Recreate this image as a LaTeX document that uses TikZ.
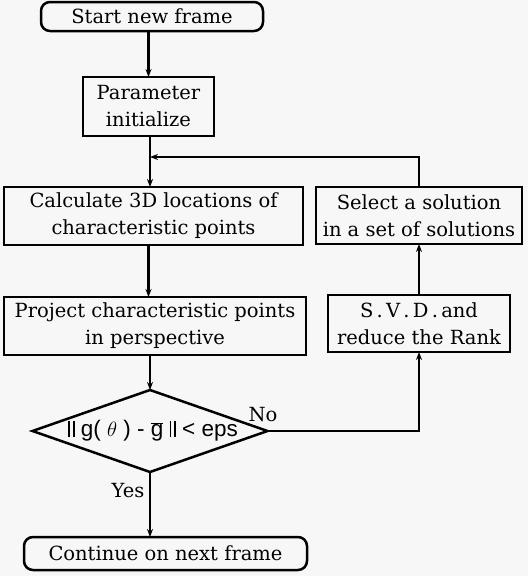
\documentclass[tikz,border=0pt]{standalone}
\usepackage{fontspec}
\setmainfont{DejaVu Serif}
\newfontfamily\sansf{Liberation Sans}
\usetikzlibrary{shapes.geometric,arrows.meta}
\newcommand{\dbar}{\rule{1.7pt}{0.7em}\hspace{3pt}\rule{1.7pt}{0.7em}}
\begin{document}
\begin{tikzpicture}[x=1pt,y=-1pt,
  every node/.style={inner sep=0pt,outer sep=0pt,align=center,font=\fontsize{19.5}{27}\selectfont},
  box/.style={draw,line width=2.5pt,rectangle},
  term/.style={draw,line width=2.5pt,rectangle,rounded corners=9pt},
  dec/.style={draw,line width=2.5pt,diamond,aspect=2.87},
  conn/.style={line width=2.5pt},
  arr/.style={conn,-{Stealth[length=8pt,width=6pt]}},
  lab/.style={font=\fontsize{19.5}{25}\selectfont}]
\fill[black!3] (0,0) rectangle (528,576);
\useasboundingbox (0,0) rectangle (528,576);
\node[term,minimum width=222pt,minimum height=29pt] (start) at (152,16.5) {Start new frame};
\node[box,minimum width=131pt,minimum height=59pt] (param) at (148.5,106.5) {Parameter\\initialize};
\node[box,minimum width=299pt,minimum height=58pt] (calc) at (153.5,216) {Calculate 3D locations of\\characteristic points};
\node[box,minimum width=206pt,minimum height=57pt] (select) at (419,215.5) {Select a solution\\in a set of solutions};
\node[box,minimum width=182pt,minimum height=57pt] (svd) at (419,323.5) {S\,.\,V\,.\,D\,.\,and\\reduce the Rank};
\node[box,minimum width=302pt,minimum height=58pt] (proj) at (155,326) {Project characteristic points\\in perspective};
\node[dec,minimum width=235pt,minimum height=82pt] (dia) at (150,431)
  {\makebox[120pt]{\hspace{6pt}\sansf\fontsize{22.5}{24}\selectfont \dbar{} g( $\theta$ ) - $\overline{\hbox{g}}$ \dbar{} < eps}};
\node[term,minimum width=283pt,minimum height=33pt] (cont) at (165.5,553.5) {Continue on next frame};
\coordinate (fb) at (150,157);
\node[lab] (no) at (263,415) {No};
\node[lab] (yes) at (128,491) {Yes};
\draw[arr] (param.north |- start.south) -- (param.north);
\draw[arr] (fb |- param.south) -- (fb |- calc.north);
\draw[arr] (select.north) |- (fb);
\draw[arr] (param.north |- calc.south) -- (param.north |- proj.north);
\draw[arr] (fb |- proj.south) -- (dia.north);
\draw[arr] (dia.east) -| (svd.south);
\draw[arr] (svd.north) -- (select.south);
\draw[arr] (dia.south) -- (dia.south |- cont.north);
\end{tikzpicture}
\end{document}
